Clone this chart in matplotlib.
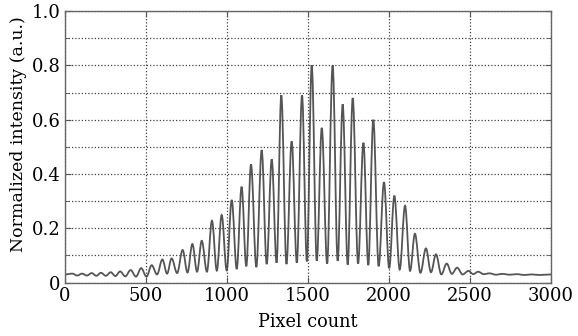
import matplotlib
matplotlib.use("Agg")
import matplotlib.pyplot as plt
from matplotlib.path import Path
from matplotlib.patches import PathPatch
from matplotlib.ticker import MultipleLocator

# fringe maxima (pixel, normalized intensity)
peak_px = [45, 105, 165, 222, 282, 340, 405, 470,
           535, 601, 658, 726, 786, 844, 907, 967, 1029, 1090, 1148, 1214,
           1276, 1335, 1399, 1463, 1523, 1585, 1652, 1714, 1776, 1842, 1903,
           1969, 2033, 2099, 2160, 2228, 2290, 2356, 2420, 2490, 2550,
           2620, 2700, 2790, 2880, 3000]
peak_val = [0.033, 0.033, 0.035, 0.036, 0.038, 0.041, 0.046, 0.053,
            0.064, 0.085, 0.089, 0.120, 0.142, 0.154, 0.228, 0.249, 0.304, 0.353, 0.435, 0.488,
            0.454, 0.690, 0.520, 0.690, 0.800, 0.570, 0.800, 0.657, 0.680, 0.515, 0.600,
            0.370, 0.320, 0.283, 0.180, 0.126, 0.104, 0.070, 0.055, 0.043, 0.040,
            0.034, 0.032, 0.031, 0.030, 0.030]

# fringe minima
valley_px = [0, 75, 135, 193, 252, 311, 372, 438, 503,
             568, 630, 692, 756, 815, 876, 937, 998, 1060, 1119, 1181, 1245,
             1306, 1367, 1431, 1493, 1554, 1618, 1683, 1745, 1809, 1872, 1936,
             2001, 2066, 2130, 2194, 2259, 2323, 2388, 2455, 2520,
             2585, 2660, 2745, 2835, 2930]
valley_val = [0.030, 0.026, 0.026, 0.025, 0.025, 0.024, 0.023, 0.022, 0.022,
              0.030, 0.033, 0.035, 0.037, 0.040, 0.040, 0.044, 0.045, 0.050, 0.060, 0.057, 0.068,
              0.073, 0.068, 0.073, 0.078, 0.080, 0.070, 0.080, 0.066, 0.070, 0.064, 0.060,
              0.053, 0.048, 0.043, 0.036, 0.038, 0.030, 0.032, 0.030, 0.031,
              0.031, 0.029, 0.029, 0.028, 0.028]

xticks = [0, 500, 1000, 1500, 2000, 2500, 3000]
yticks = [0, 0.2, 0.4, 0.6, 0.8, 1.0]
ylabels = ['0', '0.2', '0.4', '0.6', '0.8', '1.0']

# alternate valley / peak turning points
pts = []
for v in range(len(valley_px)):
    pts.append((valley_px[v], valley_val[v]))
    pts.append((peak_px[v], peak_val[v]))

# smooth trace: cubic segments with flat tangents at each turning point
verts = [pts[0]]
codes = [Path.MOVETO]
for (x0, y0), (x1, y1) in zip(pts[:-1], pts[1:]):
    d = 0.36 * (x1 - x0)
    verts += [(x0 + d, y0), (x1 - d, y1), (x1, y1)]
    codes += [Path.CURVE4] * 3

plt.rcParams['font.family'] = ['DejaVu Serif']

fig = plt.figure(figsize=(5.78, 3.36), dpi=100)
ax = fig.add_axes([0.1125, 0.159, 0.8408, 0.808])

ax.add_patch(PathPatch(Path(verts, codes), facecolor='none',
                       edgecolor='#555555', linewidth=1.3))

ax.set_xlim(0, 3000)
ax.set_ylim(0, 1.0)
ax.set_xticks(xticks)
ax.set_yticks(yticks)
ax.set_yticklabels(ylabels)
ax.yaxis.set_minor_locator(MultipleLocator(0.1))
ax.grid(True, which='both', color='#444444', linestyle=(0, (1, 1.6)), linewidth=0.9)
ax.tick_params(which='both', direction='in', top=True, right=True,
               labelsize=13, color='#555555', pad=3)
ax.tick_params(which='major', length=4)
ax.tick_params(which='minor', length=3)
for s in ax.spines.values():
    s.set_color('#666666')
    s.set_linewidth(1.0)

ax.set_xlabel('Pixel count', fontsize=12.8, labelpad=6)
ax.set_ylabel('Normalized intensity (a.u.)', fontsize=12.5)
ax.yaxis.set_label_coords(-0.078, 0.545)

fig.savefig('out.png', dpi=100, facecolor='white')
